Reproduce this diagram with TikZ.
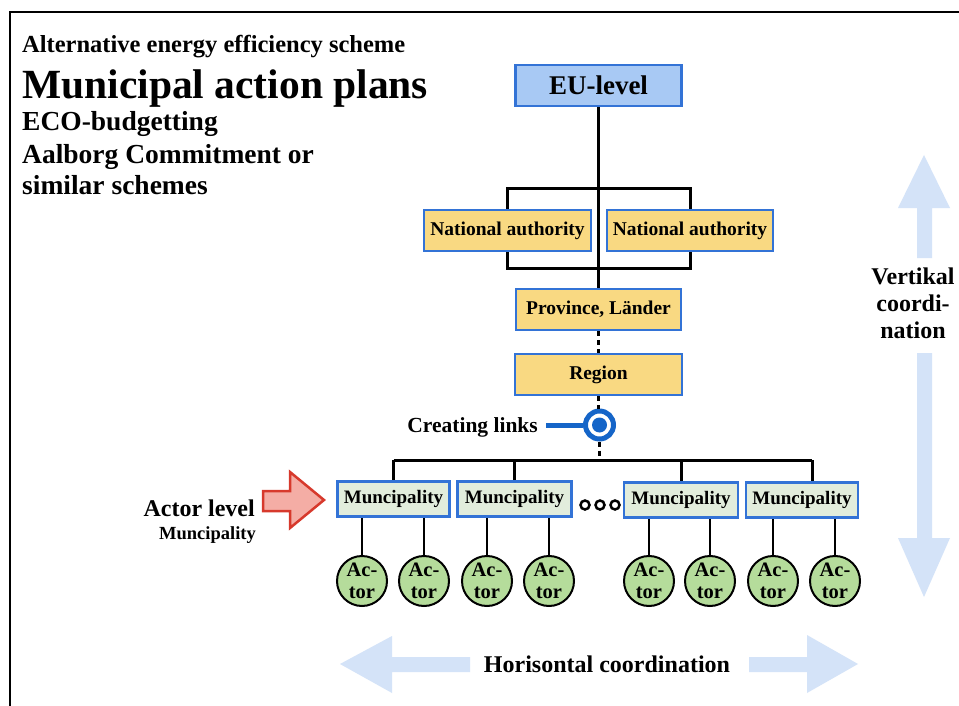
\documentclass[tikz,border=0pt]{standalone}
\usepackage{fontspec}
\setmainfont{Liberation Serif}
\definecolor{boxblue}{HTML}{3373D6}
\definecolor{eufill}{HTML}{A8C9F4}
\definecolor{orgfill}{HTML}{F9D982}
\definecolor{munifill}{HTML}{E2EDDC}
\definecolor{actorfill}{HTML}{B5DC9B}
\definecolor{arrowblue}{HTML}{D4E3F8}
\definecolor{redline}{HTML}{D7392C}
\definecolor{pinkfill}{HTML}{F4ADA5}
\definecolor{linkblue}{HTML}{1565C8}
\newcommand{\fsz}[1]{\fontsize{#1}{#1}\selectfont\bfseries}
\tikzset{
  orgbox/.style={rectangle, draw=boxblue, line width=2.5pt, inner sep=0pt, minimum height=41pt},
  eubox/.style={orgbox, fill=eufill, minimum width=166pt, font=\fsz{27}},
  natbox/.style={orgbox, fill=orgfill, minimum width=166pt, font=\fsz{19.5}},
  munibox/.style={orgbox, fill=munifill, minimum width=112pt, minimum height=35pt, font=\fsz{19}},
  actor/.style={circle, draw=black, line width=2pt, fill=actorfill, minimum size=50pt, inner sep=0pt, align=center, font=\fontsize{20.5}{21.5}\selectfont\bfseries},
  tree/.style={line width=3pt},
  dashline/.style={line width=3pt, dash pattern=on 5pt off 4pt},
  thinline/.style={line width=1.6pt},
  txt/.style={inner sep=0pt, anchor=base west},
  bigarrow/.style={fill=arrowblue, draw=none},
}
\begin{document}
\begin{tikzpicture}[x=1pt,y=-1pt]
\useasboundingbox (0,0) rectangle (959,706);
\fill[white] (0,0) rectangle (959,706);
% frame
\draw[line width=2.5pt] (10,720) -- (10,12) -- (975,12);

% titles
\node[txt, font=\fsz{24.5}] (t1) at (22,53) {Alternative energy efficiency scheme};
\node[txt, font=\fsz{41.5}] (t2) at (22,99) {Municipal action plans};
\node[txt, font=\fsz{27.5}] (t3) at (22,131) {ECO-budgetting};
\node[txt, font=\fsz{27.5}] (t4) at (22,164) {Aalborg Commitment or};
\node[txt, font=\fsz{27.5}] (t5) at (22,194) {similar schemes};

% hierarchy boxes
\node[eubox] (eu) at (598.5,85.5) {EU-level};
\node[natbox, minimum width=167pt] (na1) at (507.5,230.5) {National authority};
\node[natbox] (na2) at (690,230.5) {National authority};
\node[natbox, minimum width=165pt] (prov) at (598.5,309.5) {Province, Länder};
\node[natbox, minimum width=167pt] (reg) at (598.5,374.5) {Region};

% creating links
\node[circle, draw=linkblue, line width=5pt, minimum size=28pt, inner sep=0pt] (link) at (599.5,425) {};
\fill[linkblue] (link.center) circle (7.5pt);
\coordinate (linkend) at (546,425);
\draw[linkblue, line width=5pt] (linkend) -- (link.west);
\node[inner sep=0pt, anchor=base east, font=\fsz{21.5}] (cl) at (538,432) {Creating links};

% municipalities
\node[munibox] (m1) at (393.5,499) {Muncipality};
\node[munibox, minimum width=114pt] (m2) at (514.5,499) {Muncipality};
\node[munibox, minimum width=114pt] (m3) at (681,500) {Muncipality};
\node[munibox] (m4) at (802,500) {Muncipality};

% dots
\foreach \i/\xx in {1/585,2/600,3/615}
  \node[circle, draw=black, line width=2.5pt, minimum size=9pt, inner sep=0pt] (dot\i) at (\xx,505) {};

% actors
\foreach \i/\xx in {1/362,2/424,3/487,4/549,5/649,6/710,7/773,8/835}
  \node[actor] (a\i) at (\xx,581) {Ac-\\tor};

% connectors
\draw[tree] (eu.south) -- (prov.north);
\draw[tree] (na1.north) -- ++(0,-20) -| (na2.north);
\draw[tree] (na1.south) -- ++(0,16) -| (na2.south);
\draw[dashline] (prov.south) -- (reg.north);
\draw[dashline] (reg.south) -- (reg.south |- link.north);
\coordinate (hub) at (599.5,460);
\coordinate (bL) at (393.5,460);
\coordinate (bR) at (812,460);
\draw[dashline] (link.south) -- (hub);
\draw[tree] (bL) -- (bR);
\draw[tree] (bL) -- (m1.north);
\draw[tree] (m2.north |- hub) -- (m2.north);
\draw[tree] (m3.north |- hub) -- (m3.north);
\draw[tree] (bR) -- (bR |- m4.north);
\foreach \a/\m in {1/m1,2/m1,3/m2,4/m2,5/m3,6/m3,7/m4,8/m4}
  \draw[thinline] (a\a.north) -- (a\a.north |- \m.south);

% actor level label and red arrow
\node[inner sep=0pt, anchor=base east, font=\fsz{24}] (al) at (255,516) {Actor level};
\node[inner sep=0pt, anchor=base east, font=\fsz{18.5}] (alm) at (256,539) {Muncipality};
\draw[redline, fill=pinkfill, line width=2.5pt, line join=miter]
  (263,491) -- (290,491) -- (290,472) -- (324,500) -- (290,528) -- (290,511) -- (263,511) -- cycle;

% horizontal coordination
\fill[bigarrow] (340,664) -- (392,636) -- (392,657) -- (470,657) -- (470,672) -- (392,672) -- (392,693) -- cycle;
\fill[bigarrow] (858,664) -- (807,635) -- (807,657) -- (749,657) -- (749,672) -- (807,672) -- (807,693) -- cycle;
\node[inner sep=0pt, anchor=base, font=\fsz{24}] (hc) at (607,672) {Horisontal coordination};

% vertical coordination
\fill[bigarrow] (924,155) -- (950,208) -- (932,208) -- (932,258) -- (917,258) -- (917,208) -- (898,208) -- cycle;
\fill[bigarrow] (924,597) -- (950,538) -- (932,538) -- (932,353) -- (917,353) -- (917,538) -- (898,538) -- cycle;
\node[inner sep=0pt, align=center, font=\fontsize{24}{27}\selectfont\bfseries] (vc) at (913,303) {Vertikal\\coordi-\\nation};
\end{tikzpicture}
\end{document}
